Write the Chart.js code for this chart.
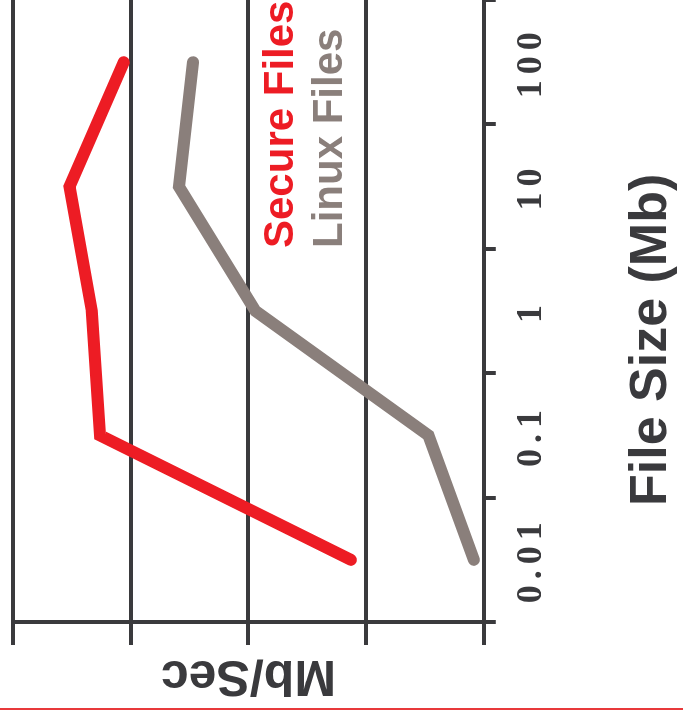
<!DOCTYPE html>
<html>
<head>
<meta charset="utf-8">
<script src="https://cdn.jsdelivr.net/npm/chart.js@4/dist/chart.umd.min.js"></script>
<style>
  html, body { margin: 0; padding: 0; background: #fff; overflow: hidden; }
  body { width: 683px; height: 711px; position: relative; }
  /* the chart is drawn upright and then turned a quarter turn to the left */
  #wrap {
    position: absolute; left: 0; top: 0;
    width: 711px; height: 683px;
    transform-origin: 0 0;
    transform: translate(0, 711px) rotate(-90deg);
  }
  #rule { position: absolute; left: 0; top: 708px; width: 683px; height: 2px; background: #e8393b; }
</style>
</head>
<body>
<div id="wrap"><canvas id="speedChart" width="711" height="683"></canvas></div>
<div id="rule"></div>
<script>
const fileSizes = ['0.01', '0.1', '1', '10', '100'];
const secureFiles = [1.13, 3.26, 3.33, 3.52, 3.06];
const linuxFiles = [0.085, 0.47, 1.94, 2.59, 2.47];

const ink = '#3a3a3d';
const red = '#ed1c24';
const grey = '#8a7f7b';

// tick numbers are spaced out a little, the rest of the text is not
const spacedTicks = {
    id: 'spacedTicks',
    afterDatasetsDraw(chart) { chart.ctx.letterSpacing = '6px'; },
    afterDraw(chart) { chart.ctx.letterSpacing = '0px'; }
};

// series names written inside the plot, in the line colours
const seriesNames = {
    id: 'seriesNames',
    afterDraw(chart) {
        const ctx = chart.ctx;
        const rows = [293, 342];
        ctx.save();
        ctx.font = 'bold 42px "Liberation Sans", Arial, sans-serif';
        ctx.textAlign = 'left';
        ctx.textBaseline = 'alphabetic';
        chart.data.datasets.forEach((ds, i) => {
            ctx.fillStyle = ds.borderColor;
            ctx.fillText(ds.label, 463, rows[i]);
        });
        ctx.restore();
    }
};

new Chart(document.getElementById('speedChart'), {
    type: 'line',
    data: {
        labels: fileSizes,
        datasets: [
            { label: 'Secure Files', data: secureFiles, borderColor: red },
            { label: 'Linux Files', data: linuxFiles, borderColor: grey }
        ]
    },
    options: {
        responsive: false,
        animation: false,
        layout: { padding: { top: 13, right: 0, bottom: 0, left: 0 } },
        elements: {
            line: { borderWidth: 12, tension: 0, borderCapStyle: 'round', borderJoinStyle: 'miter', fill: false },
            point: { radius: 0, hoverRadius: 0 }
        },
        plugins: {
            legend: { display: false },
            tooltip: { enabled: false }
        },
        scales: {
            x: {
                type: 'category',
                offset: true,
                grid: {
                    offset: true,
                    color: c => c.index === fileSizes.length ? ink : 'rgba(0,0,0,0)',
                    tickColor: ink,
                    lineWidth: 4,
                    tickLength: 12
                },
                border: { color: ink, width: 4 },
                ticks: {
                    z: 1,
                    color: ink,
                    padding: 14,
                    maxRotation: 0,
                    autoSkip: false,
                    font: { family: '"Liberation Serif", "Times New Roman", serif', size: 36, weight: 'bold' }
                },
                title: {
                    display: true,
                    text: 'File Size (Mb)    ',
                    color: ink,
                    font: { family: '"Liberation Sans", Arial, sans-serif', size: 52, weight: 'bold', lineHeight: 1 },
                    padding: { top: 59, bottom: 5 }
                }
            },
            y: {
                min: 0,
                max: 4,
                ticks: { display: false, stepSize: 1 },
                grid: { color: ink, lineWidth: 4, tickLength: 23 },
                border: { color: ink, width: 4 },
                title: {
                    display: true,
                    text: 'Mb/Sec',
                    color: ink,
                    font: { family: '"Liberation Sans", Arial, sans-serif', size: 50, weight: 'bold', lineHeight: 1 },
                    padding: { top: 11.5, bottom: 4.5 }
                }
            }
        }
    },
    plugins: [spacedTicks, seriesNames]
});
</script>
</body>
</html>
